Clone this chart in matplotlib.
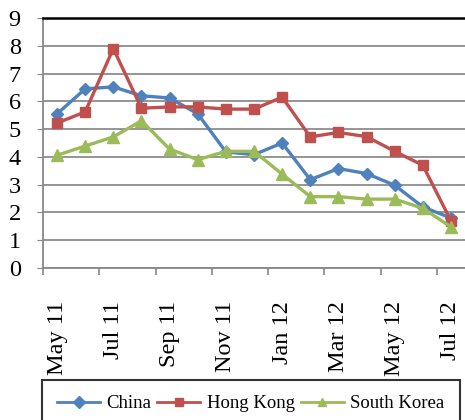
import matplotlib.pyplot as plt

months = ["May 11", "Jun 11", "Jul 11", "Aug 11", "Sep 11", "Oct 11", "Nov 11", "Dec 11",
          "Jan 12", "Feb 12", "Mar 12", "Apr 12", "May 12", "Jun 12", "Jul 12"]
china = [5.55, 6.45, 6.52, 6.2, 6.12, 5.55, 4.18, 4.08, 4.5, 3.18, 3.58, 3.4, 2.98, 2.2, 1.8]
hong_kong = [5.22, 5.62, 7.9, 5.75, 5.8, 5.8, 5.72, 5.72, 6.15, 4.72, 4.88, 4.73, 4.2, 3.7, 1.7]
south_korea = [4.06, 4.39, 4.72, 5.3, 4.28, 3.9, 4.2, 4.2, 3.38, 2.57, 2.57, 2.48, 2.48, 2.15, 1.48]

plt.rcParams['font.family'] = ['Liberation Serif', 'DejaVu Serif']

fig = plt.figure(figsize=(4.65, 4.2), dpi=100)
ax = fig.add_axes([43 / 465, 1 - 268 / 420, 1 - 43 / 465, 250 / 420])

x = list(range(len(months)))
ax.plot(x, china, color='#4F81BD', lw=2.4, marker='D', ms=6.5, label='China')
ax.plot(x, hong_kong, color='#C0504D', lw=2.4, marker='s', ms=7.5, label='Hong Kong')
ax.plot(x, south_korea, color='#9BBB59', lw=2.4, marker='^', ms=8, label='South Korea')

ax.set_xlim(-0.5, len(months) - 0.5)
ax.set_ylim(0, 9)
ax.set_yticks(range(10))
ax.tick_params(axis='y', labelsize=17.5, length=4, color='#888888', pad=12)
ax.yaxis.grid(True, color='#8c8c8c', lw=1.3)
ax.set_axisbelow(True)

ax.set_xticks(x[::2])
ax.set_xticklabels(months[::2], rotation=90)
ax.tick_params(axis='x', which='major', length=0, labelsize=17.5, pad=24)
ax.set_xticks([i - 0.5 for i in x[::2]], minor=True)
ax.tick_params(axis='x', which='minor', length=5, color='#888888', width=1.2)

for side in ['left', 'bottom']:
    ax.spines[side].set_color('#888888')
    ax.spines[side].set_linewidth(1.3)
ax.spines['right'].set_visible(False)
ax.spines['top'].set_color('black')
ax.spines['top'].set_linewidth(1.8)

leg = fig.legend(loc='upper left', bbox_to_anchor=(42 / 465, 1 - 380 / 420), ncol=3,
                 fontsize=13.5, frameon=True, fancybox=False, edgecolor='black',
                 handlelength=2.3, handletextpad=0.35, columnspacing=0.3,
                 borderpad=0.8, borderaxespad=0)
leg.get_frame().set_linewidth(1.5)
for h in leg.legend_handles:
    h.set_linewidth(2)
    h.set_markersize(6)

fig.savefig('out.png', dpi=100)
